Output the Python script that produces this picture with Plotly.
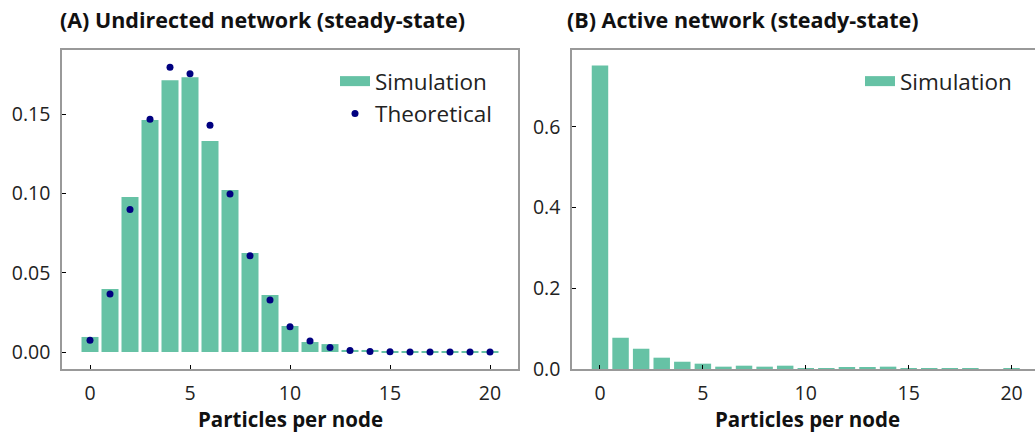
import plotly.graph_objects as go

# ---- data ----
particles = list(range(21))
sim_undirected = [0.0095, 0.0397, 0.0977, 0.1462, 0.1714, 0.1733, 0.1330, 0.1021,
                  0.0624, 0.0359, 0.0164, 0.0063, 0.0050, 0.0013, 0.0013, 0.0004,
                  0.0003, 0.0003, 0.0003, 0.0003, 0.0003]
theory_undirected = [0.0074, 0.0366, 0.0899, 0.1468, 0.1796, 0.1754, 0.1429, 0.0996,
                     0.0607, 0.0328, 0.0160, 0.0069, 0.0029, 0.0009, 0.0003, 0.0001,
                     0.00003, 0.00001, 0.0, 0.0, 0.0]
sim_active = [0.7514, 0.0774, 0.0502, 0.0280, 0.0180, 0.0132, 0.0058, 0.0082,
              0.0058, 0.0082, 0.0010, 0.0010, 0.0033, 0.0033, 0.0058, 0.0006,
              0.0008, 0.0008, 0.0008, 0.0, 0.0008]

titles = ["(A) Undirected network (steady-state)", "(B) Active network (steady-state)"]
x_label = "Particles per node"
x_ticks = [0, 5, 10, 15, 20]
y_ticks_a = [0.0, 0.05, 0.10, 0.15]
y_ticks_b = [0.0, 0.2, 0.4, 0.6]

GREEN = "#66c2a5"
NAVY = "#000080"
FONT = "Open Sans, sans-serif"
TXT = "#222222"
W, H = 1035, 432
BOLD_SIZE = 21.5
XLAB_SIZE = 20.5
TICK_SIZE = 19.5
LEG_SIZE = 22.5

fig = go.Figure()

fig.add_trace(go.Bar(x=particles, y=sim_undirected, width=0.85, marker=dict(color=GREEN, line=dict(width=0)),
                     name="Simulation", showlegend=False, legendgroup="a_sim", xaxis="x", yaxis="y"))
fig.add_trace(go.Scatter(x=[None], y=[None], mode="lines", line=dict(color=GREEN, width=18),
                         name="Simulation", legend="legend", legendgroup="a_sim", xaxis="x", yaxis="y"))
fig.add_trace(go.Scatter(x=particles, y=theory_undirected, mode="markers",
                         marker=dict(color=NAVY, size=7), name="Theoretical", legend="legend",
                         xaxis="x", yaxis="y"))

fig.add_trace(go.Bar(x=particles, y=sim_active, width=0.8, marker=dict(color=GREEN, line=dict(width=0)),
                     name="Simulation", showlegend=False, legendgroup="b_sim", xaxis="x2", yaxis="y2"))
fig.add_trace(go.Scatter(x=[None], y=[None], mode="lines", line=dict(color=GREEN, width=18),
                         name="Simulation", legend="legend2", legendgroup="b_sim", xaxis="x2", yaxis="y2"))

ytop, ybot = 1 - 50 / H, 1 - 369 / H

axis_common = dict(showgrid=False, zeroline=False, showline=True, linecolor="#999999", linewidth=1.5,
                   ticks="inside", ticklen=4, tickwidth=1.2, tickcolor="#000000", automargin=False,
                   tickfont=dict(family=FONT, size=TICK_SIZE, color=TXT), ticklabelstandoff=6)

fig.update_layout(
    width=W, height=H,
    margin=dict(l=0, r=0, t=0, b=0),
    paper_bgcolor="white", plot_bgcolor="white",
    font=dict(family=FONT, size=TICK_SIZE, color=TXT),
    xaxis=dict(domain=[62 / W, 518 / W], range=[-1.4, 21.4], tickvals=x_ticks, mirror=True, anchor="y", **axis_common),
    yaxis=dict(domain=[ybot, ytop], range=[-0.0107, 0.1904], tickvals=y_ticks_a, tickformat=".2f", mirror=True,
               anchor="x", **axis_common),
    xaxis2=dict(domain=[572 / W, 1.0], range=[-1.36, 21.14], tickvals=x_ticks, mirror=True, anchor="y2", **axis_common),
    yaxis2=dict(domain=[ybot, ytop], range=[0, 0.79], tickvals=y_ticks_b, tickformat=".1f", mirror=False,
                anchor="x2", **axis_common),
    legend=dict(x=335 / W, y=1 - 60 / H, xanchor="left", yanchor="top", bgcolor="rgba(0,0,0,0)",
                font=dict(family=FONT, size=LEG_SIZE, color=TXT), tracegroupgap=0),
    legend2=dict(x=860 / W, y=1 - 60 / H, xanchor="left", yanchor="top", bgcolor="rgba(0,0,0,0)",
                 font=dict(family=FONT, size=LEG_SIZE, color=TXT), tracegroupgap=0),
    annotations=[
        dict(text="<b>" + titles[0] + "</b>", x=58 / W, y=1 - 20 / H, xref="paper", yref="paper",
             xanchor="left", yanchor="middle", showarrow=False, font=dict(family=FONT, size=BOLD_SIZE, color="#111111")),
        dict(text="<b>" + titles[1] + "</b>", x=565 / W, y=1 - 20 / H, xref="paper", yref="paper",
             xanchor="left", yanchor="middle", showarrow=False, font=dict(family=FONT, size=BOLD_SIZE, color="#111111")),
        dict(text="<b>" + x_label + "</b>", x=290 / W, y=1 - 418.5 / H, xref="paper", yref="paper",
             xanchor="center", yanchor="middle", showarrow=False, font=dict(family=FONT, size=XLAB_SIZE, color="#111111")),
        dict(text="<b>" + x_label + "</b>", x=807 / W, y=1 - 418.5 / H, xref="paper", yref="paper",
             xanchor="center", yanchor="middle", showarrow=False, font=dict(family=FONT, size=XLAB_SIZE, color="#111111")),
    ],
)

fig.write_html("out.html", config={"displayModeBar": False},
               post_script="document.body.style.margin='0';document.body.style.overflow='hidden';")
